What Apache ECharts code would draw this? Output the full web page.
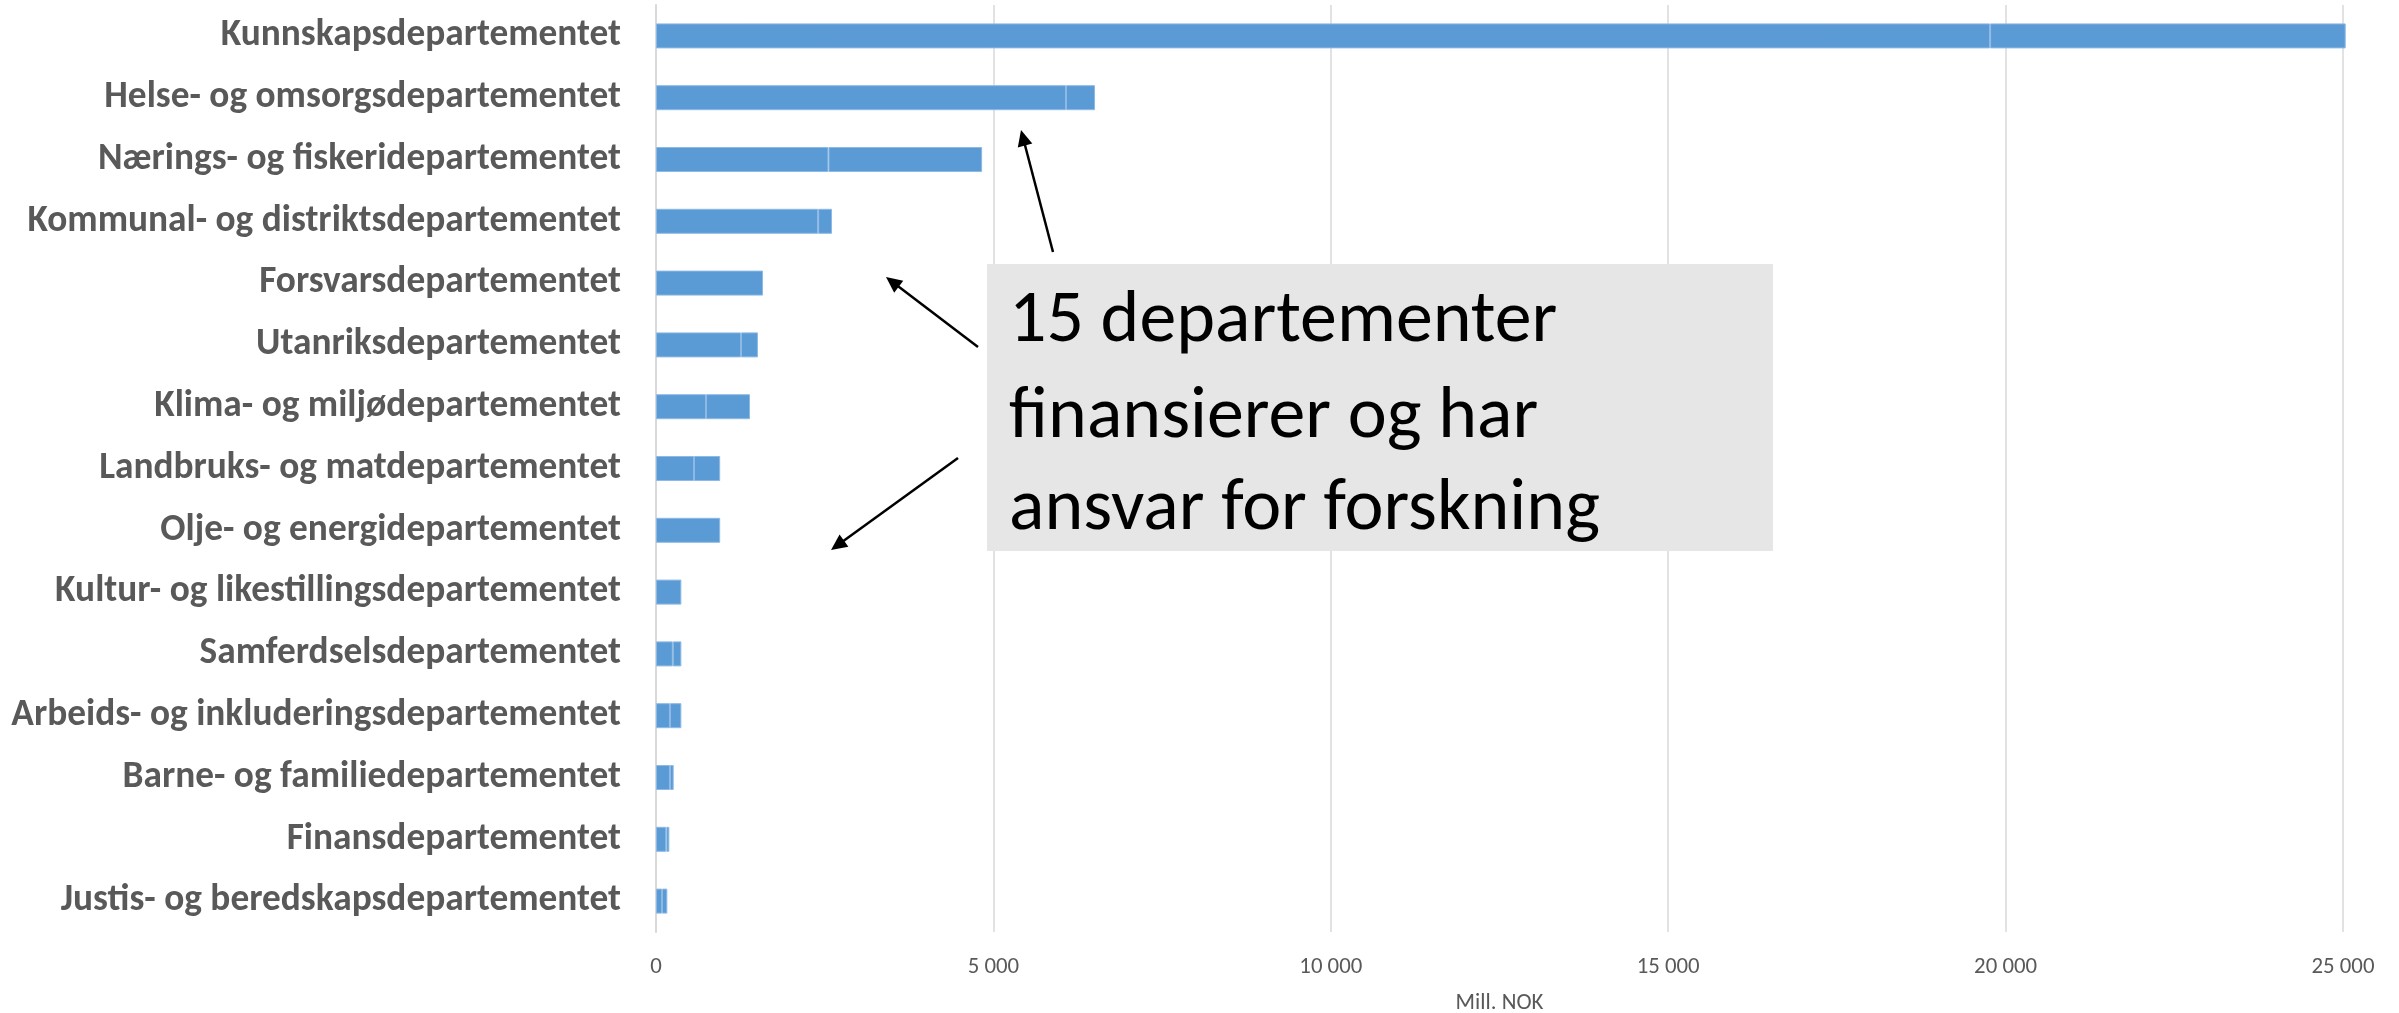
<!DOCTYPE html>
<html>
<head>
<meta charset="utf-8">
<script src="https://cdn.jsdelivr.net/npm/echarts@6/dist/echarts.min.js"></script>
<style>
html,body{margin:0;padding:0;background:#fff;}
#c{width:2399px;height:1013px;}
</style>
</head>
<body>
<div id="c"></div>
<script>
// ---- data ----
const categories = [
  'Kunnskapsdepartementet',
  'Helse- og omsorgsdepartementet',
  'Nærings- og fiskeridepartementet',
  'Kommunal- og distriktsdepartementet',
  'Forsvarsdepartementet',
  'Utanriksdepartementet',
  'Klima- og miljødepartementet',
  'Landbruks- og matdepartementet',
  'Olje- og energidepartementet',
  'Kultur- og likestillingsdepartementet',
  'Samferdselsdepartementet',
  'Arbeids- og inkluderingsdepartementet',
  'Barne- og familiedepartementet',
  'Finansdepartementet',
  'Justis- og beredskapsdepartementet'
];
const valuesPart1 = [19770, 6076, 2556, 2403, 1586, 1260, 741, 563, 951, 376, 249, 207, 207, 153, 89];
const valuesPart2 = [5270, 430, 2277, 205, null, 251, 652, 388, null, null, 127, 169, 55, 45, 79];
const xTicks = [0, 5000, 10000, 15000, 20000, 25000];
const xAxisTitle = 'Mill. NOK';
const boxLines = ['15 departementer', 'finansierer og har', 'ansvar for forskning'];

// ---- font helpers ----
const ctx = document.createElement('canvas').getContext('2d');
function avail(f){
  const s='abcdefghijWWMmi0123456789';
  ctx.font='40px monospace'; const a=ctx.measureText(s).width;
  ctx.font='40px "'+f+'", monospace'; const b=ctx.measureText(s).width;
  ctx.font='40px serif'; const a2=ctx.measureText(s).width;
  ctx.font='40px "'+f+'", serif'; const b2=ctx.measureText(s).width;
  return a!==b || a2!==b2;
}
const fam = ['Carlito','Liberation Sans Narrow','Roboto Condensed','DejaVu Sans Condensed','Open Sans','Liberation Sans'].find(avail) || 'sans-serif';
function fit(text, weight, targetW){
  ctx.font = weight+' 100px "'+fam+'"';
  return 100*targetW/ctx.measureText(text).width;
}
const yLabelSize = fit('Arbeids- og inkluderingsdepartementet','bold',610);
const tickSize = fit('25 000','normal',63);
const boxSize = fit('15 departementer','normal',548);

const fmt = v => String(v).replace(/\B(?=(\d{3})+(?!\d))/g,' ');

const chart = echarts.init(document.getElementById('c'), null, {renderer:'canvas'});

function arrow(x1,y1,x2,y2){
  const dx=x2-x1, dy=y2-y1, L=Math.hypot(dx,dy), ux=dx/L, uy=dy/L;
  const hl=16, hw=7.5;
  const bx=x2-ux*hl, by=y2-uy*hl;
  return [
    {type:'line', shape:{x1:x1,y1:y1,x2:bx+ux*2,y2:by+uy*2}, style:{stroke:'#000',lineWidth:2.5}, z:100},
    {type:'polygon', shape:{points:[[x2,y2],[bx-uy*hw,by+ux*hw],[bx+uy*hw,by-ux*hw]]}, style:{fill:'#000'}, z:100}
  ];
}

const boxX=987, boxY=264, boxW=786, boxH=287;
const graphics = [
  {type:'rect', shape:{x:boxX,y:boxY,width:boxW,height:boxH}, style:{fill:'#E6E6E6'}, z:90}
];
const lineBottoms=[360,456,548];
boxLines.forEach((t,i)=>{
  graphics.push({type:'text', x:1009, y:lineBottoms[i], z:95,
    style:{text:t, fill:'#000', font:'normal '+boxSize.toFixed(1)+'px "'+fam+'"', textAlign:'left', textVerticalAlign:'bottom', verticalAlign:'bottom'}});
});
graphics.push(...arrow(1053,252,1021,130));
graphics.push(...arrow(978,347,886,277));
graphics.push(...arrow(958,458,831,550));

const barStyle = {color:'#5B9BD5', borderColor:'#8DB9E4', borderWidth:1};

chart.setOption({
  animation:false,
  backgroundColor:'#fff',
  grid:{left:656, right:56, top:5, bottom:81, containLabel:false, outerBoundsMode:'none'},
  xAxis:{
    type:'value', min:xTicks[0], max:xTicks[xTicks.length-1], interval:xTicks[1]-xTicks[0],
    axisLine:{show:false}, axisTick:{show:false},
    splitLine:{show:true, lineStyle:{color:'#D9D9D9', width:1.5}},
    axisLabel:{formatter:v=>fmt(v), color:'#595959', fontFamily:fam, fontSize:tickSize, margin:24},
    name:xAxisTitle, nameLocation:'middle', nameGap:60,
    nameTextStyle:{color:'#595959', fontFamily:fam, fontSize:tickSize}
  },
  yAxis:{
    type:'category', inverse:true, data:categories,
    axisLine:{show:true, lineStyle:{color:'#D9D9D9', width:2}},
    axisTick:{show:false},
    axisLabel:{color:'#595959', fontWeight:'bold', fontFamily:fam, fontSize:yLabelSize, margin:35}
  },
  series:[
    {type:'bar', stack:'t', data:valuesPart1, barWidth:25, itemStyle:barStyle, clip:false, silent:true},
    {type:'bar', stack:'t', data:valuesPart2, barWidth:25, itemStyle:barStyle, clip:false, silent:true}
  ],
  graphic:graphics
});
</script>
</body>
</html>
